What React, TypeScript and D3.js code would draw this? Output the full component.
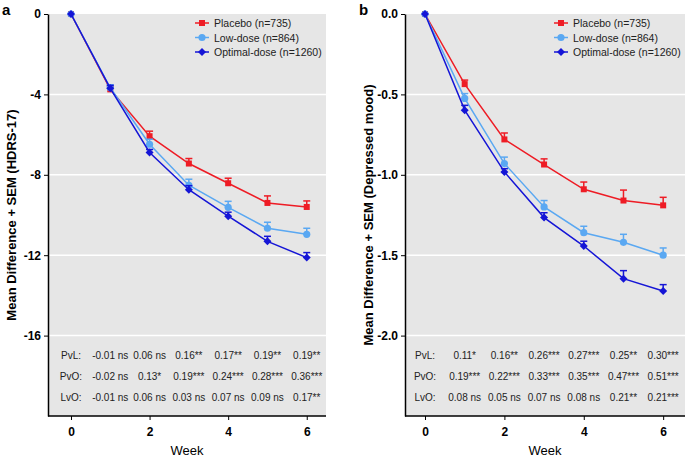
import * as React from 'react';
import * as d3 from 'd3';

const weeks = [0, 1, 2, 3, 4, 5, 6];
const seriesNames = ['Placebo (n=735)', 'Low-dose (n=864)', 'Optimal-dose (n=1260)'];
const seriesColors = ['#ee1c25', '#5aa8f2', '#1515d6'];

// panel a: HDRS-17
const hdrsPlacebo = [0, -3.75, -6.08, -7.44, -8.42, -9.4, -9.6];
const hdrsLow = [0, -3.67, -6.48, -8.52, -9.62, -10.66, -10.96];
const hdrsOptimal = [0, -3.7, -6.89, -8.74, -10.06, -11.31, -12.12];
const hdrsPlaceboSem = [0, 0.15, 0.25, 0.25, 0.25, 0.35, 0.3];
const hdrsLowSem = [0, 0.15, 0.25, 0.3, 0.3, 0.3, 0.3];
const hdrsOptimalSem = [0, 0.15, 0.15, 0.2, 0.2, 0.25, 0.25];
const hdrsTicks = [0, -4, -8, -12, -16];
const hdrsPvL = ['-0.01 ns', '0.06 ns', '0.16**', '0.17**', '0.19**', '0.19**'];
const hdrsPvO = ['-0.02 ns', '0.13*', '0.19***', '0.24***', '0.28***', '0.36***'];
const hdrsLvO = ['-0.01 ns', '0.06 ns', '0.03 ns', '0.07 ns', '0.09 ns', '0.17**'];

// panel b: depressed mood
const moodPlacebo = [0, -0.436, -0.78, -0.936, -1.09, -1.16, -1.19];
const moodLow = [0, -0.525, -0.93, -1.2, -1.36, -1.42, -1.5];
const moodOptimal = [0, -0.598, -0.982, -1.266, -1.443, -1.646, -1.723];
const moodPlaceboSem = [0, 0.025, 0.04, 0.035, 0.045, 0.065, 0.05];
const moodLowSem = [0, 0.03, 0.04, 0.04, 0.04, 0.05, 0.045];
const moodOptimalSem = [0, 0.03, 0.02, 0.03, 0.03, 0.05, 0.04];
const moodTicks = [0, -0.5, -1.0, -1.5, -2.0];
const moodPvL = ['0.11*', '0.16**', '0.26***', '0.27***', '0.25**', '0.30***'];
const moodPvO = ['0.19***', '0.22***', '0.33***', '0.35***', '0.47***', '0.51***'];
const moodLvO = ['0.08 ns', '0.05 ns', '0.07 ns', '0.08 ns', '0.21**', '0.21***'];

const statLabels = ['PvL:', 'PvO:', 'LvO:'];
const FONT = '"Liberation Sans", Arial, Helvetica, sans-serif';

type PanelProps = {
  letter: string;
  left: number;
  right: number;
  yMin: number;
  ticks: number[];
  decimals: number;
  title: string;
  means: number[][];
  sems: number[][];
  stats: string[][];
  xMax: number;
  xMin: number;
};

// marker shapes: square, circle, diamond (a square turned 45deg)
function marker(sel: d3.Selection<SVGGElement, unknown, null, undefined>, s: number, color: string) {
  if (s === 0) {
    sel.append('rect').attr('x', -3).attr('y', -3).attr('width', 6).attr('height', 6).attr('fill', color);
  } else if (s === 1) {
    sel.append('circle').attr('r', 3.6).attr('fill', color);
  } else {
    sel.append('path').attr('d', 'M0,-4L4,0L0,4L-4,0Z').attr('fill', color);
  }
}

function drawPanel(g: d3.Selection<SVGGElement, unknown, null, undefined>, p: PanelProps) {
  const top = 14;
  const bottom = 416;
  const x = d3.scaleLinear().domain([p.xMin, p.xMax]).range([p.left, p.right]);
  const y = d3.scaleLinear().domain([p.yMin, 0]).range([bottom, top]);

  g.append('rect')
    .attr('x', p.left).attr('y', top)
    .attr('width', p.right - p.left).attr('height', bottom - top)
    .attr('fill', '#e6e6e6');

  g.selectAll('.grid')
    .data(p.ticks.slice(1))
    .enter().append('line')
    .attr('x1', p.left).attr('x2', p.right)
    .attr('y1', d => y(d)).attr('y2', d => y(d))
    .attr('stroke', '#fff').attr('stroke-width', 1.5);

  const yAxis = g.append('g')
    .attr('transform', `translate(${p.left},0)`)
    .call(d3.axisLeft(y).tickValues(p.ticks)
      .tickFormat(d => (+d).toFixed(p.decimals)).tickSize(4).tickSizeOuter(0));
  yAxis.select('.domain').attr('stroke', '#000').attr('stroke-width', 1.5);
  yAxis.selectAll('text').style('font', `bold 12px ${FONT}`).attr('fill', '#000');

  const xAxis = g.append('g')
    .attr('transform', `translate(0,${bottom})`)
    .call(d3.axisBottom(x).tickValues([0, 2, 4, 6]).tickFormat(d => String(d)).tickSize(4).tickSizeOuter(0));
  xAxis.select('.domain').attr('stroke', '#000').attr('stroke-width', 1.5)
    .attr('d', `M${p.left},0H${p.right}`);
  xAxis.selectAll('text').style('font', `bold 12px ${FONT}`).attr('fill', '#000').attr('dy', '1.1em');

  g.append('text')
    .attr('x', (p.left + p.right) / 2).attr('y', 455)
    .attr('text-anchor', 'middle')
    .style('font', `13px ${FONT}`)
    .text('Week');

  g.append('text')
    .attr('transform', `translate(${p.left - 32},${(top + bottom) / 2}) rotate(-90)`)
    .attr('text-anchor', 'middle')
    .style('font', `bold 13px ${FONT}`)
    .text(p.title);

  g.append('text')
    .attr('x', p.left - 46).attr('y', 15)
    .style('font', `bold 15px ${FONT}`)
    .text(p.letter);

  const line = d3.line<number>().x((d, i) => x(weeks[i])).y(d => y(d));

  p.means.forEach((vals, s) => {
    const color = seriesColors[s];
    const sg = g.append('g');
    sg.append('path')
      .attr('d', line(vals))
      .attr('fill', 'none').attr('stroke', color).attr('stroke-width', 1.5);
    vals.forEach((v, i) => {
      const sem = p.sems[s][i];
      if (sem > 0) {
        const cx = x(weeks[i]);
        sg.append('line')
          .attr('x1', cx).attr('x2', cx)
          .attr('y1', y(v)).attr('y2', y(v + sem))
          .attr('stroke', color).attr('stroke-width', 1.5);
        sg.append('line')
          .attr('x1', cx - 3.5).attr('x2', cx + 3.5)
          .attr('y1', y(v + sem)).attr('y2', y(v + sem))
          .attr('stroke', color).attr('stroke-width', 1.5);
      }
    });
    vals.forEach((v, i) => {
      marker(sg.append('g').attr('transform', `translate(${x(weeks[i])},${y(v)})`), s, color);
    });
  });

  // legend
  const legX = p.right - 131;
  seriesNames.forEach((name, s) => {
    const ly = 23 + s * 14.5;
    g.append('line')
      .attr('x1', legX).attr('x2', legX + 14)
      .attr('y1', ly).attr('y2', ly)
      .attr('stroke', seriesColors[s]).attr('stroke-width', 1.5);
    marker(g.append('g').attr('transform', `translate(${legX + 7},${ly})`), s, seriesColors[s]);
    g.append('text')
      .attr('x', legX + 19).attr('y', ly + 4)
      .style('font', `10.5px ${FONT}`)
      .attr('fill', '#222')
      .text(name);
  });

  // stats table
  p.stats.forEach((row, r) => {
    const ty = bottom - 57 + r * 21;
    g.append('text')
      .attr('x', x(0)).attr('y', ty)
      .attr('text-anchor', 'middle')
      .style('font', `10px ${FONT}`).attr('fill', '#222')
      .text(statLabels[r]);
    row.forEach((t, i) => {
      g.append('text')
        .attr('x', x(weeks[i + 1])).attr('y', ty)
        .attr('text-anchor', 'middle')
        .style('font', `10px ${FONT}`).attr('fill', '#222')
        .text(t);
    });
  });
}

export default function App() {
  const ref = React.useRef<SVGSVGElement>(null);

  React.useEffect(() => {
    const svg = d3.select(ref.current);
    svg.selectAll('*').remove();
    drawPanel(svg.append('g'), {
      letter: 'a', left: 48, right: 326, xMin: -0.585, xMax: 6.49,
      yMin: -20, ticks: hdrsTicks, decimals: 0,
      title: 'Mean Difference + SEM (HDRS-17)',
      means: [hdrsPlacebo, hdrsLow, hdrsOptimal],
      sems: [hdrsPlaceboSem, hdrsLowSem, hdrsOptimalSem],
      stats: [hdrsPvL, hdrsPvO, hdrsLvO],
    });
    drawPanel(svg.append('g'), {
      letter: 'b', left: 405, right: 685, xMin: -0.504, xMax: 6.55,
      yMin: -2.5, ticks: moodTicks, decimals: 1,
      title: 'Mean Difference + SEM (Depressed mood)',
      means: [moodPlacebo, moodLow, moodOptimal],
      sems: [moodPlaceboSem, moodLowSem, moodOptimalSem],
      stats: [moodPvL, moodPvO, moodLvO],
    });
  }, []);

  return (
    <svg ref={ref} width={685} height={460}
      style={{ position: 'absolute', left: 0, top: 0, background: '#fff' }} />
  );
}
